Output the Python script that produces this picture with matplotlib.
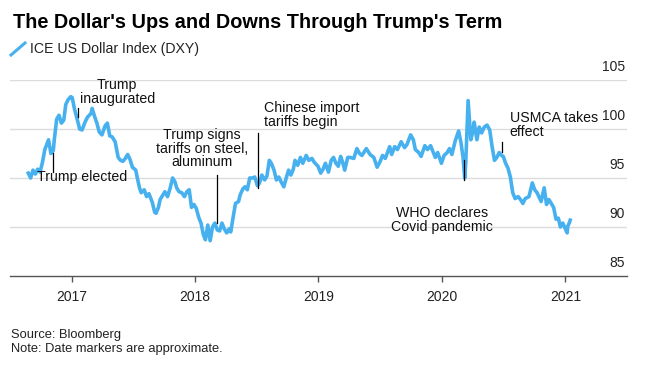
import matplotlib
matplotlib.use("Agg")
import matplotlib.pyplot as plt
import pandas as pd
from matplotlib.lines import Line2D

plt.rcParams['font.family'] = ['Liberation Sans', 'DejaVu Sans']

# ICE US Dollar Index (approximate)
dates = [
    "2016-08-26", "2016-09-02", "2016-09-09", "2016-09-16", "2016-09-23", "2016-09-30",
    "2016-10-07", "2016-10-14", "2016-10-25", "2016-11-01", "2016-11-08", "2016-11-11",
    "2016-11-18", "2016-11-25", "2016-12-02", "2016-12-09", "2016-12-15", "2016-12-22",
    "2016-12-30", "2017-01-03", "2017-01-10", "2017-01-17", "2017-01-25", "2017-02-01",
    "2017-02-10", "2017-02-17", "2017-02-28", "2017-03-03", "2017-03-10", "2017-03-17",
    "2017-03-24", "2017-04-01", "2017-04-10", "2017-04-17", "2017-04-24", "2017-05-01",
    "2017-05-10", "2017-05-19", "2017-05-26", "2017-06-02", "2017-06-09", "2017-06-16",
    "2017-06-23", "2017-06-30", "2017-07-10", "2017-07-14", "2017-07-21", "2017-07-26",
    "2017-08-04", "2017-08-11", "2017-08-18", "2017-08-28", "2017-09-04", "2017-09-08",
    "2017-09-15", "2017-09-20", "2017-09-27", "2017-10-04", "2017-10-12", "2017-10-20",
    "2017-10-27", "2017-11-03", "2017-11-08", "2017-11-15", "2017-11-23", "2017-12-01",
    "2017-12-08", "2017-12-15", "2017-12-22", "2017-12-29", "2018-01-05", "2018-01-12",
    "2018-01-19", "2018-01-26", "2018-02-01", "2018-02-08", "2018-02-15", "2018-02-22",
    "2018-03-01", "2018-03-08", "2018-03-15", "2018-03-22", "2018-03-29", "2018-04-05",
    "2018-04-12", "2018-04-17", "2018-04-24", "2018-05-01", "2018-05-10", "2018-05-15",
    "2018-05-23", "2018-05-29", "2018-06-05", "2018-06-12", "2018-06-20", "2018-06-27",
    "2018-07-05", "2018-07-11", "2018-07-18", "2018-07-26", "2018-08-02", "2018-08-09",
    "2018-08-15", "2018-08-23", "2018-08-30", "2018-09-06", "2018-09-13", "2018-09-21",
    "2018-09-28", "2018-10-05", "2018-10-12", "2018-10-19", "2018-10-24", "2018-11-01",
    "2018-11-09", "2018-11-16", "2018-11-26", "2018-12-04", "2018-12-13", "2018-12-20",
    "2018-12-31", "2019-01-08", "2019-01-15", "2019-01-22", "2019-01-31", "2019-02-08",
    "2019-02-15", "2019-02-22", "2019-03-01", "2019-03-08", "2019-03-14", "2019-03-20",
    "2019-03-29", "2019-04-05", "2019-04-16", "2019-04-25", "2019-05-03", "2019-05-10",
    "2019-05-23", "2019-06-03", "2019-06-14", "2019-06-24", "2019-07-03", "2019-07-10",
    "2019-07-18", "2019-07-31", "2019-08-06", "2019-08-15", "2019-08-23", "2019-09-03",
    "2019-09-13", "2019-09-20", "2019-10-01", "2019-10-09", "2019-10-15", "2019-10-25",
    "2019-11-01", "2019-11-12", "2019-11-20", "2019-11-29", "2019-12-06", "2019-12-13",
    "2019-12-20", "2019-12-31", "2020-01-08", "2020-01-17", "2020-01-24", "2020-01-31",
    "2020-02-10", "2020-02-20", "2020-02-27", "2020-03-04", "2020-03-09", "2020-03-12",
    "2020-03-19", "2020-03-27", "2020-04-01", "2020-04-06", "2020-04-14", "2020-04-21",
    "2020-04-28", "2020-05-06", "2020-05-14", "2020-05-22", "2020-05-29", "2020-06-05",
    "2020-06-12", "2020-06-19", "2020-06-26", "2020-07-01", "2020-07-08", "2020-07-15",
    "2020-07-22", "2020-07-29", "2020-08-05", "2020-08-14", "2020-08-21", "2020-08-28",
    "2020-09-04", "2020-09-15", "2020-09-25", "2020-10-02", "2020-10-09", "2020-10-21",
    "2020-10-30", "2020-11-06", "2020-11-13", "2020-11-20", "2020-11-27", "2020-12-04",
    "2020-12-11", "2020-12-17", "2020-12-24", "2021-01-06", "2021-01-08", "2021-01-12",
    "2021-01-15",
]
dxy = [
    95.5, 95.0, 95.8, 95.4, 95.9, 95.6,
    96.6, 97.9, 98.9, 97.5, 97.8, 98.9,
    101.0, 101.4, 100.6, 100.9, 102.5, 103.0,
    103.3, 103.2, 102.0, 101.1, 100.0, 99.9,
    100.7, 101.2, 101.6, 102.1, 101.3, 100.6,
    99.7, 99.4, 100.3, 100.6, 99.3, 99.2,
    98.7, 97.1, 96.8, 96.7, 97.0, 97.4,
    96.9, 96.1, 95.8, 95.1, 94.0, 93.5,
    93.8, 93.1, 93.4, 92.5, 91.5, 91.4,
    92.0, 92.8, 93.2, 93.6, 93.1, 94.0,
    95.0, 94.6, 94.0, 93.6, 93.5, 93.1,
    93.6, 93.8, 92.0, 92.3, 91.9, 91.0,
    90.4, 89.2, 88.7, 90.2, 88.6, 90.0,
    90.4, 89.7, 89.6, 90.4, 89.8, 89.4,
    89.8, 89.5, 91.0, 92.4, 92.6, 93.3,
    93.9, 94.1, 93.8, 95.0, 95.0, 95.1,
    94.2, 94.5, 95.3, 94.8, 95.2, 96.8,
    96.5, 95.8, 94.8, 95.1, 94.6, 94.1,
    95.0, 95.8, 95.3, 95.9, 96.8, 96.3,
    97.1, 96.5, 97.3, 96.8, 97.0, 96.6,
    96.2, 95.5, 95.9, 96.5, 95.6, 96.8,
    97.1, 96.5, 96.2, 97.2, 96.6, 95.8,
    97.1, 97.1, 97.0, 98.0, 97.5, 97.3,
    98.0, 97.4, 97.1, 96.1, 96.7, 97.3,
    97.0, 98.2, 97.4, 98.2, 97.9, 98.7,
    98.1, 98.4, 99.4, 98.9, 97.9, 97.6,
    97.2, 98.3, 97.9, 98.3, 97.7, 97.1,
    97.6, 96.5, 97.3, 97.6, 98.0, 97.4,
    98.8, 99.8, 98.6, 97.1, 95.0, 96.5,
    102.9, 98.9, 99.6, 100.7, 98.9, 100.2,
    99.6, 100.2, 100.4, 99.9, 98.2, 96.8,
    97.1, 97.6, 97.3, 97.2, 96.5, 96.0,
    95.1, 93.5, 92.9, 93.1, 92.8, 92.4,
    92.9, 93.1, 94.5, 93.8, 93.5, 92.6,
    94.0, 92.3, 92.8, 92.4, 92.0, 90.8,
    90.9, 90.0, 90.4, 89.4, 90.1, 90.4,
    90.7,
]

grid_values = [85, 90, 95, 100, 105]
year_ticks = ["2017-01-01", "2018-01-01", "2019-01-01", "2020-01-01", "2021-01-01"]
year_labels = ["2017", "2018", "2019", "2020", "2021"]

# (text, text date, text value, ha, marker date, marker top, marker bottom)
events = [
    ("Trump elected", "2016-09-22", 95.1, "left", "2016-11-08", 97.6, 95.6),
    ("Trump\ninaugurated", "2017-05-16", 103.8, "center", "2017-01-20", 102.1, 101.2),
    ("Trump signs\ntariffs on steel,\naluminum", "2018-01-22", 98.0, "center", "2018-03-06", 95.3, 90.4),
    ("Chinese import\ntariffs begin", "2018-07-23", 101.4, "left", "2018-07-06", 99.6, 94.0),
    ("WHO declares\nCovid pandemic", "2020-01-01", 90.7, "center", "2020-03-06", 96.8, 94.8),
    ("USMCA takes\neffect", "2020-07-20", 100.4, "left", "2020-06-27", 98.7, 97.65),
]

line_color = '#47b1ef'

fig = plt.figure(figsize=(6.59, 3.69), dpi=100)
ax = fig.add_axes([10 / 659, 1 - 276 / 369, 617 / 659, 196 / 369])

x = pd.to_datetime(dates)
ax.plot(x, dxy, color=line_color, lw=2.6, solid_joinstyle='round', zorder=3)

ax.set_xlim(pd.Timestamp("2016-07-03"), pd.Timestamp("2021-07-02"))
ax.set_ylim(85, 105)

for v in grid_values[1:]:
    ax.axhline(v, color='#dcdcdc', lw=1, zorder=1)
for v in grid_values:
    ax.annotate(str(v), xy=(1, v), xycoords=('axes fraction', 'data'),
                xytext=(-1.5, 9.4), textcoords='offset points',
                ha='right', va='center', fontsize=10, color='#222222')

for side in ['top', 'right', 'left']:
    ax.spines[side].set_visible(False)
ax.spines['bottom'].set_color('#555555')
ax.spines['bottom'].set_linewidth(1)
ax.set_yticks([])
ax.set_xticks(pd.to_datetime(year_ticks))
ax.set_xticklabels(year_labels, fontsize=10, color='#222222')
ax.tick_params(axis='x', length=4, width=1, color='#555555', pad=6)

for label, tdate, tval, ha, mdate, top, bottom in events:
    md = pd.Timestamp(mdate)
    ax.plot([md, md], [bottom, top], color='black', lw=0.9, zorder=4)
    ax.text(pd.Timestamp(tdate), tval, label, ha=ha, va='center',
            fontsize=10.2, linespacing=0.98, color='#111111', zorder=5)

fig.text(13 / 659, 1 - 28 / 369, "The Dollar's Ups and Downs Through Trump's Term",
         fontsize=14.3, fontweight='bold', va='baseline', ha='left')
fig.add_artist(Line2D([11 / 659, 25 / 659], [1 - 55 / 369, 1 - 43 / 369],
                      color=line_color, lw=2.2, transform=fig.transFigure))
fig.text(30 / 659, 1 - 53 / 369, "ICE US Dollar Index (DXY)", fontsize=10.2,
         va='baseline', ha='left', color='#222222')
fig.text(11 / 659, 1 - 338 / 369, "Source: Bloomberg", fontsize=9.3,
         va='baseline', ha='left', color='#222222')
fig.text(11 / 659, 1 - 352 / 369, "Note: Date markers are approximate.", fontsize=9.3,
         va='baseline', ha='left', color='#222222')

fig.savefig("out.png", dpi=100)
